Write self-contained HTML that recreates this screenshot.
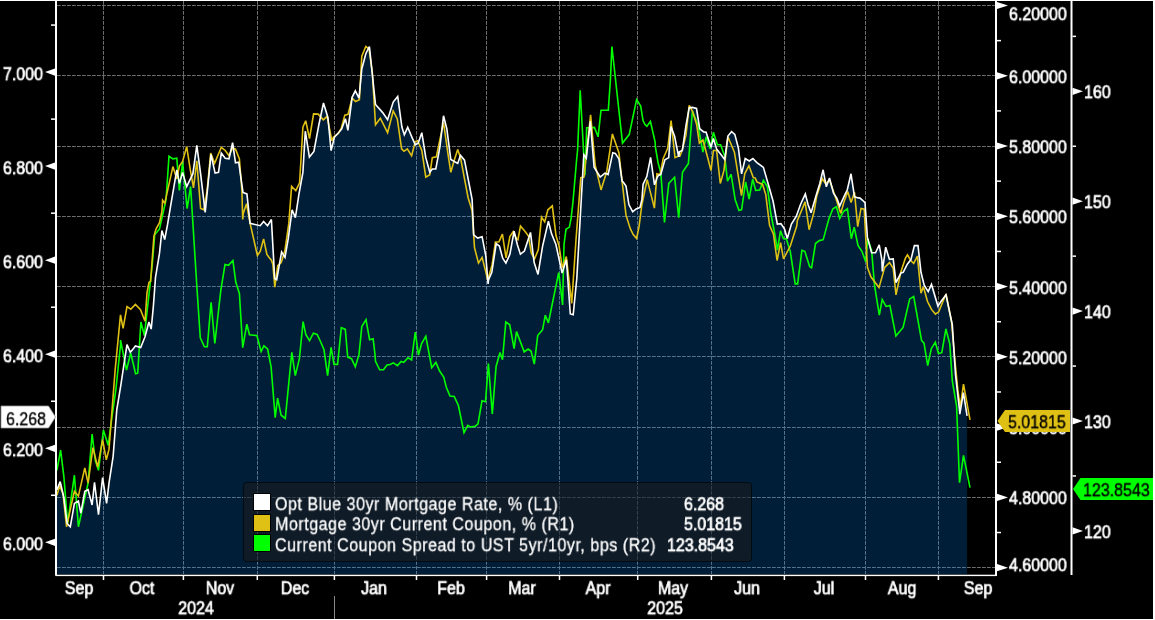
<!DOCTYPE html><html><head><meta charset="utf-8"><style>
html,body{margin:0;padding:0;background:#000;width:1155px;height:620px;overflow:hidden}
.t{position:absolute;will-change:transform;font-family:'Liberation Sans',sans-serif;font-size:16px;color:#fff;white-space:nowrap;line-height:1}
</style></head><body><div style="position:relative;width:1155px;height:620px">
<svg width="1155" height="620" viewBox="0 0 1155 620" style="position:absolute;left:0;top:0">
<rect x="0" y="0" width="1155" height="620" fill="#000"/>
<line x1="57" y1="5.5" x2="995" y2="5.5" stroke="#6e6e6e" stroke-width="1" stroke-dasharray="3.8 1.2"/>
<line x1="57" y1="75.5" x2="995" y2="75.5" stroke="#6e6e6e" stroke-width="1" stroke-dasharray="3.8 1.2"/>
<line x1="57" y1="146.5" x2="995" y2="146.5" stroke="#6e6e6e" stroke-width="1" stroke-dasharray="3.8 1.2"/>
<line x1="57" y1="216.5" x2="995" y2="216.5" stroke="#6e6e6e" stroke-width="1" stroke-dasharray="3.8 1.2"/>
<line x1="57" y1="286.5" x2="995" y2="286.5" stroke="#6e6e6e" stroke-width="1" stroke-dasharray="3.8 1.2"/>
<line x1="57" y1="356.5" x2="995" y2="356.5" stroke="#6e6e6e" stroke-width="1" stroke-dasharray="3.8 1.2"/>
<line x1="57" y1="427.5" x2="995" y2="427.5" stroke="#6e6e6e" stroke-width="1" stroke-dasharray="3.8 1.2"/>
<line x1="57" y1="497.5" x2="995" y2="497.5" stroke="#6e6e6e" stroke-width="1" stroke-dasharray="3.8 1.2"/>
<line x1="57" y1="567.5" x2="995" y2="567.5" stroke="#6e6e6e" stroke-width="1" stroke-dasharray="3.8 1.2"/>
<line x1="103.5" y1="1" x2="103.5" y2="574" stroke="#6e6e6e" stroke-width="1" stroke-dasharray="3.8 1.2"/>
<line x1="183.5" y1="1" x2="183.5" y2="574" stroke="#6e6e6e" stroke-width="1" stroke-dasharray="3.8 1.2"/>
<line x1="257.5" y1="1" x2="257.5" y2="574" stroke="#6e6e6e" stroke-width="1" stroke-dasharray="3.8 1.2"/>
<line x1="334.5" y1="1" x2="334.5" y2="574" stroke="#6e6e6e" stroke-width="1" stroke-dasharray="3.8 1.2"/>
<line x1="416.5" y1="1" x2="416.5" y2="574" stroke="#6e6e6e" stroke-width="1" stroke-dasharray="3.8 1.2"/>
<line x1="486.5" y1="1" x2="486.5" y2="574" stroke="#6e6e6e" stroke-width="1" stroke-dasharray="3.8 1.2"/>
<line x1="559.5" y1="1" x2="559.5" y2="574" stroke="#6e6e6e" stroke-width="1" stroke-dasharray="3.8 1.2"/>
<line x1="637.5" y1="1" x2="637.5" y2="574" stroke="#6e6e6e" stroke-width="1" stroke-dasharray="3.8 1.2"/>
<line x1="711.5" y1="1" x2="711.5" y2="574" stroke="#6e6e6e" stroke-width="1" stroke-dasharray="3.8 1.2"/>
<line x1="784.5" y1="1" x2="784.5" y2="574" stroke="#6e6e6e" stroke-width="1" stroke-dasharray="3.8 1.2"/>
<line x1="865.5" y1="1" x2="865.5" y2="574" stroke="#6e6e6e" stroke-width="1" stroke-dasharray="3.8 1.2"/>
<line x1="938.5" y1="1" x2="938.5" y2="574" stroke="#6e6e6e" stroke-width="1" stroke-dasharray="3.8 1.2"/>
<polygon points="56.9,574.0 56.9,489.7 60.2,481.6 63.9,497.7 67.1,523.5 70.3,526.8 74.4,503.4 78.4,501.0 80.8,513.1 84.8,491.3 88.1,489.7 92.1,505.0 94.5,482.4 98.5,514.7 102.6,477.6 106.6,503.4 109.0,483.2 113.1,456.6 116.8,409.5 120.8,385.3 123.7,366.0 127.0,344.6 130.3,352.3 133.7,348.2 135.4,345.9 140.7,347.6 145.0,336.8 148.9,322.0 151.2,329.1 153.4,305.8 155.5,277.4 159.5,253.2 161.9,230.6 164.7,239.5 167.6,224.2 170.8,204.8 173.5,189.2 176.8,169.8 179.4,183.4 182.6,172.4 186.7,186.6 192.9,173.7 196.8,145.3 200.6,173.7 205.2,212.4 211.0,154.4 215.1,173.1 218.5,172.4 221.3,153.1 225.2,158.2 229.0,158.9 232.6,142.7 235.5,162.7 238.7,162.1 243.0,192.4 246.9,193.9 250.1,223.4 260.2,225.7 263.6,221.5 267.5,225.7 271.4,219.5 274.7,278.5 276.7,279.7 281.6,251.9 285.0,257.3 288.2,238.9 292.1,209.8 295.4,217.6 298.9,194.4 302.9,172.4 305.3,131.2 309.4,157.1 313.9,151.5 319.0,124.0 323.5,103.0 327.9,117.5 331.1,150.6 334.4,137.3 341.6,129.2 345.4,118.7 347.9,130.4 352.1,97.3 355.3,90.8 359.0,98.1 361.8,69.0 365.8,53.7 369.4,46.5 375.5,104.5 382.7,112.6 387.6,119.8 393.2,102.1 397.7,96.5 401.9,127.1 404.3,134.8 407.7,127.3 412.1,137.6 415.3,144.8 418.1,143.2 421.8,132.7 425.8,157.7 429.8,172.3 432.3,169.0 435.8,169.0 440.0,146.5 443.5,115.8 446.8,128.7 450.8,159.4 454.8,161.8 457.7,163.4 460.5,155.3 464.5,160.2 472.1,199.4 473.7,234.8 477.7,238.1 482.1,236.7 485.8,255.8 488.1,284.0 488.5,280.0 491.8,272.3 496.2,243.7 499.4,246.1 502.7,258.2 505.9,263.1 509.9,254.2 514.1,231.2 517.3,244.5 520.4,254.2 524.4,251.0 530.5,232.4 534.1,262.3 538.0,274.4 542.6,246.1 548.4,221.1 551.5,233.6 555.9,244.5 562.1,273.1 566.4,259.8 570.3,313.9 573.2,314.7 576.8,278.4 583.8,154.8 586.3,158.1 590.3,121.3 594.1,167.3 600.2,177.0 604.9,173.1 608.1,174.5 612.8,152.7 615.3,153.4 618.9,158.7 622.1,181.0 623.4,182.3 626.0,186.0 628.9,204.5 632.7,211.8 636.1,208.9 640.0,207.4 641.9,199.7 643.1,184.2 646.8,176.6 650.6,157.3 654.5,184.8 657.3,177.1 658.5,175.5 660.8,174.5 664.9,159.7 667.3,158.4 668.7,157.7 671.0,126.6 674.6,136.3 678.7,156.9 679.4,151.9 682.3,150.5 686.0,125.5 689.2,107.7 692.4,107.4 696.5,108.5 699.7,128.7 703.7,131.9 706.1,132.3 711.0,147.3 713.4,138.4 716.6,148.9 724.7,159.4 727.9,136.0 731.6,131.6 734.8,134.4 738.4,148.1 741.6,173.9 745.2,158.5 749.3,161.0 752.9,158.5 756.9,162.6 763.4,167.4 769.0,186.8 773.1,201.3 777.3,224.0 780.9,223.6 784.4,228.7 787.3,238.5 791.4,224.0 796.2,216.4 800.5,204.5 805.3,194.0 808.1,204.8 811.1,212.7 815.8,196.5 819.8,183.5 823.1,169.8 826.3,186.8 829.5,177.9 833.5,193.2 836.8,198.1 839.7,206.1 844.8,194.8 847.3,189.8 851.0,173.8 854.5,196.8 858.5,197.9 860.0,198.1 862.6,200.3 865.0,202.7 867.4,237.4 871.6,252.8 875.5,252.8 879.2,244.8 881.9,260.0 882.3,271.5 885.7,247.2 889.4,259.3 893.2,258.9 896.0,282.7 900.8,273.1 903.2,272.3 907.3,264.2 911.0,259.4 914.4,245.6 918.0,245.6 921.0,272.3 924.2,285.2 928.2,291.6 931.5,284.4 937.9,306.1 941.1,301.3 946.0,294.8 952.3,324.6 955.5,374.5 959.5,410.0 959.8,414.2 963.4,392.7 967.1,415.8 967.1,574.0" fill="rgb(5,136,255)" fill-opacity="0.22"/>
<rect x="243.5" y="482.5" width="508" height="79" rx="3" fill="rgb(28,25,25)" fill-opacity="0.55" stroke="#000" stroke-opacity="0.6" stroke-width="1"/>
<polyline points="56.9,470.3 60.6,450.2 63.9,476.8 67.6,523.5 74.4,475.2 78.4,526.8 88.1,483.2 92.1,434.0 95.3,460.6 98.5,470.3 103.4,430.0 108.2,445.3 111.9,417.6 116.0,388.5 120.5,345.0 120.5,340.1 126.5,370.0 130.7,353.0 135.6,373.7 137.7,373.2 140.9,322.0 144.4,335.5 152.3,264.5 154.7,234.7 159.5,229.0 166.0,200.0 169.0,156.3 172.9,158.9 176.8,158.2 179.4,190.5 182.6,162.1 187.1,208.5 190.6,186.6 197.1,290.3 200.3,337.9 204.4,346.8 207.3,346.8 211.1,302.4 214.8,343.5 220.8,290.3 225.0,264.5 228.5,265.3 232.9,260.5 235.8,282.3 239.4,293.5 242.7,347.6 246.8,324.2 249.5,334.7 256.9,335.6 261.1,351.5 263.9,345.8 267.6,349.0 271.1,366.8 275.2,417.6 277.6,398.2 281.1,415.2 285.3,418.4 291.8,352.3 295.3,375.6 299.4,358.7 303.1,321.6 305.8,334.5 309.5,340.6 313.4,333.2 317.1,334.5 320.3,341.0 324.0,349.8 327.6,375.6 331.1,347.4 334.0,364.4 337.6,364.4 341.3,327.7 345.3,329.4 347.7,357.1 351.5,358.7 355.3,366.8 359.0,354.7 361.8,326.5 366.0,319.7 369.6,339.8 373.1,338.7 375.0,354.7 375.5,361.4 379.7,369.8 383.5,369.8 387.0,365.0 390.2,364.5 393.3,362.9 397.5,365.6 401.1,361.4 403.8,362.4 408.0,357.8 411.6,359.9 415.3,332.0 418.5,355.1 421.6,343.6 425.8,336.2 431.7,367.7 435.9,362.4 439.5,370.8 443.7,377.1 446.4,387.6 450.0,396.0 454.2,396.4 458.4,405.5 464.0,432.7 467.8,425.4 470.9,427.1 472.9,426.5 475.1,426.4 478.0,423.9 482.0,400.8 485.5,401.7 488.4,363.5 492.3,413.9 496.1,366.5 500.0,352.5 502.5,359.7 505.8,321.9 509.7,324.8 514.1,348.6 516.5,331.6 524.2,351.9 528.1,349.0 531.0,351.0 534.3,364.1 537.7,335.5 542.6,329.7 545.3,315.2 548.4,322.9 558.7,272.7 562.6,305.0 564.0,244.5 566.0,229.2 569.4,227.1 571.1,218.4 572.9,202.6 576.6,160.0 577.6,150.0 580.2,90.2 584.9,175.2 586.7,127.7 594.4,127.4 598.1,136.8 601.0,110.2 608.3,110.2 610.4,80.0 611.9,46.5 622.5,143.1 629.2,134.6 636.6,99.5 640.7,106.0 643.1,120.8 645.0,124.5 646.9,126.2 650.4,121.4 655.2,142.3 655.3,146.5 658.1,162.9 660.8,172.9 664.5,222.4 668.8,183.4 674.6,177.3 678.7,217.6 682.5,172.3 688.4,163.4 692.4,111.0 698.1,125.5 702.9,152.1 706.1,136.8 710.2,148.9 713.4,132.3 717.4,144.8 720.6,144.8 724.7,156.1 727.5,181.2 731.1,174.4 735.2,199.8 739.0,210.4 741.6,209.6 745.6,182.0 749.1,199.0 752.7,179.2 755.7,190.5 759.7,190.1 763.4,180.3 767.4,186.8 770.8,213.5 774.7,233.5 777.4,250.0 780.5,230.9 783.5,238.7 786.3,238.7 790.3,251.6 795.2,283.9 797.6,283.9 801.9,250.3 804.8,251.3 809.7,266.7 811.6,267.7 815.5,243.5 819.3,240.6 823.2,239.7 829.0,218.4 832.9,208.7 836.4,206.8 839.7,218.4 843.5,211.6 847.4,208.7 851.3,238.7 854.2,227.1 858.0,245.5 861.9,251.3 865.8,261.9 867.7,238.7 871.6,250.3 874.5,285.1 879.3,315.1 882.2,299.6 886.1,306.4 889.9,305.4 895.9,335.9 903.1,327.4 909.7,298.9 913.7,296.5 921.6,340.6 924.0,343.1 927.7,365.6 931.3,348.7 935.3,342.3 938.5,353.5 941.8,352.7 945.9,329.0 949.8,343.9 952.3,381.0 956.6,406.1 957.4,427.1 959.5,482.7 963.5,455.3 970.0,487.6" fill="none" stroke="#00ff00" stroke-width="1.6" stroke-linejoin="miter" stroke-miterlimit="3"/>
<polyline points="56.9,495.3 59.8,485.6 63.1,494.5 66.6,526.8 71.1,505.8 74.4,491.3 78.4,496.1 84.8,467.9 88.1,483.2 92.9,447.7 97.7,467.1 102.6,439.7 106.3,459.8 109.0,449.4 112.7,401.5 115.2,369.2 120.5,314.9 123.1,328.4 127.0,306.5 130.8,309.1 135.4,304.5 140.5,309.7 145.0,321.3 147.0,292.9 149.0,282.3 150.6,281.5 153.9,236.3 156.0,229.0 159.5,222.6 161.9,211.3 162.6,200.2 164.8,203.2 172.9,166.6 176.8,178.9 179.4,166.0 182.6,161.5 186.7,146.6 190.3,169.8 193.5,187.9 196.8,160.8 200.6,208.5 203.9,209.8 207.1,190.5 210.7,153.1 214.6,163.4 221.3,147.3 225.2,150.5 229.0,155.6 232.6,147.9 235.5,149.2 239.4,158.9 241.9,190.5 242.7,219.5 243.2,213.7 246.5,203.7 250.1,223.4 257.4,255.5 260.2,251.5 263.6,238.9 266.9,254.4 268.9,257.3 271.4,260.2 272.9,264.5 274.8,287.2 277.7,265.6 281.2,262.5 283.4,255.6 284.9,250.5 288.8,223.4 291.6,186.4 295.8,190.7 299.6,182.9 302.9,127.3 305.7,120.7 309.5,138.5 313.6,113.9 318.2,114.1 323.3,119.9 327.1,116.3 331.9,140.9 333.5,136.9 338.4,133.5 341.3,128.1 344.8,115.1 348.1,114.3 352.1,98.1 355.6,101.5 359.4,99.7 361.8,56.1 365.8,46.5 369.0,48.9 372.3,72.3 375.5,124.7 380.3,118.2 387.6,132.7 393.2,111.0 397.3,119.0 401.6,148.9 404.0,151.3 407.3,148.9 411.6,155.8 415.3,141.6 417.7,140.8 421.8,150.5 425.8,177.1 429.8,174.7 432.3,157.7 436.3,156.9 443.5,122.3 447.6,151.3 450.8,172.3 454.0,161.0 457.7,149.4 460.5,157.7 468.1,197.7 472.1,210.6 474.5,247.7 478.5,263.1 482.1,257.4 485.8,271.9 487.7,280.4 492.1,264.7 495.4,242.1 499.0,241.7 502.4,234.0 506.0,257.8 509.9,236.5 513.2,231.6 516.5,238.9 517.9,239.7 520.5,226.0 524.5,230.8 528.5,236.0 531.3,253.0 534.5,259.0 538.3,249.8 541.5,217.1 544.7,221.9 547.9,209.8 552.3,205.8 556.0,235.6 559.1,246.1 562.3,267.9 566.3,256.6 571.7,303.4 576.0,239.7 580.8,177.7 584.0,177.1 590.6,114.8 595.2,165.2 601.0,189.9 606.7,171.8 612.4,133.9 618.9,152.7 621.7,177.9 626.0,215.2 630.3,228.7 633.2,234.5 636.6,238.4 639.0,226.8 641.9,204.5 647.2,179.6 654.4,208.1 656.9,173.8 660.1,174.6 663.2,158.4 665.0,154.5 667.7,148.4 671.1,120.6 675.0,157.7 678.7,156.1 680.0,156.0 682.3,149.7 686.0,135.2 689.2,105.3 692.4,111.0 696.5,123.9 699.4,143.2 702.9,140.0 707.7,157.7 711.0,170.6 713.4,150.5 716.6,150.5 720.3,183.5 723.9,170.6 727.9,136.8 734.4,152.1 741.5,195.7 744.8,173.5 748.9,165.8 753.3,177.5 755.3,178.1 756.9,181.9 762.6,184.4 765.8,194.8 769.6,225.6 773.4,233.9 777.1,260.5 780.6,242.7 783.5,258.9 790.3,246.0 796.8,225.8 797.3,220.6 805.1,201.9 809.1,229.7 812.9,216.1 814.2,211.0 816.6,196.5 822.3,178.7 825.5,183.5 829.5,180.3 833.5,191.6 836.8,201.3 840.8,213.4 844.0,201.9 847.7,191.5 851.1,202.4 854.5,192.3 857.7,226.6 861.0,208.4 864.2,209.2 867.4,267.4 871.0,277.1 879.0,287.6 884.7,267.4 889.5,262.6 893.2,268.2 896.0,294.8 900.8,272.3 905.3,258.4 907.5,254.8 910.5,260.2 913.7,263.4 917.4,256.1 921.0,293.2 923.4,286.8 927.4,301.3 931.5,309.4 935.4,314.1 938.7,311.8 946.0,294.0 951.6,322.3 954.7,358.4 957.9,390.6 960.3,406.8 963.5,384.2 970.0,419.8" fill="none" stroke="#dfc014" stroke-width="1.6" stroke-linejoin="miter" stroke-miterlimit="3"/>
<polyline points="56.9,489.7 60.2,481.6 63.9,497.7 67.1,523.5 70.3,526.8 74.4,503.4 78.4,501.0 80.8,513.1 84.8,491.3 88.1,489.7 92.1,505.0 94.5,482.4 98.5,514.7 102.6,477.6 106.6,503.4 109.0,483.2 113.1,456.6 116.8,409.5 120.8,385.3 123.7,366.0 127.0,344.6 130.3,352.3 133.7,348.2 135.4,345.9 140.7,347.6 145.0,336.8 148.9,322.0 151.2,329.1 153.4,305.8 155.5,277.4 159.5,253.2 161.9,230.6 164.7,239.5 167.6,224.2 170.8,204.8 173.5,189.2 176.8,169.8 179.4,183.4 182.6,172.4 186.7,186.6 192.9,173.7 196.8,145.3 200.6,173.7 205.2,212.4 211.0,154.4 215.1,173.1 218.5,172.4 221.3,153.1 225.2,158.2 229.0,158.9 232.6,142.7 235.5,162.7 238.7,162.1 243.0,192.4 246.9,193.9 250.1,223.4 260.2,225.7 263.6,221.5 267.5,225.7 271.4,219.5 274.7,278.5 276.7,279.7 281.6,251.9 285.0,257.3 288.2,238.9 292.1,209.8 295.4,217.6 298.9,194.4 302.9,172.4 305.3,131.2 309.4,157.1 313.9,151.5 319.0,124.0 323.5,103.0 327.9,117.5 331.1,150.6 334.4,137.3 341.6,129.2 345.4,118.7 347.9,130.4 352.1,97.3 355.3,90.8 359.0,98.1 361.8,69.0 365.8,53.7 369.4,46.5 375.5,104.5 382.7,112.6 387.6,119.8 393.2,102.1 397.7,96.5 401.9,127.1 404.3,134.8 407.7,127.3 412.1,137.6 415.3,144.8 418.1,143.2 421.8,132.7 425.8,157.7 429.8,172.3 432.3,169.0 435.8,169.0 440.0,146.5 443.5,115.8 446.8,128.7 450.8,159.4 454.8,161.8 457.7,163.4 460.5,155.3 464.5,160.2 472.1,199.4 473.7,234.8 477.7,238.1 482.1,236.7 485.8,255.8 488.1,284.0 488.5,280.0 491.8,272.3 496.2,243.7 499.4,246.1 502.7,258.2 505.9,263.1 509.9,254.2 514.1,231.2 517.3,244.5 520.4,254.2 524.4,251.0 530.5,232.4 534.1,262.3 538.0,274.4 542.6,246.1 548.4,221.1 551.5,233.6 555.9,244.5 562.1,273.1 566.4,259.8 570.3,313.9 573.2,314.7 576.8,278.4 583.8,154.8 586.3,158.1 590.3,121.3 594.1,167.3 600.2,177.0 604.9,173.1 608.1,174.5 612.8,152.7 615.3,153.4 618.9,158.7 622.1,181.0 623.4,182.3 626.0,186.0 628.9,204.5 632.7,211.8 636.1,208.9 640.0,207.4 641.9,199.7 643.1,184.2 646.8,176.6 650.6,157.3 654.5,184.8 657.3,177.1 658.5,175.5 660.8,174.5 664.9,159.7 667.3,158.4 668.7,157.7 671.0,126.6 674.6,136.3 678.7,156.9 679.4,151.9 682.3,150.5 686.0,125.5 689.2,107.7 692.4,107.4 696.5,108.5 699.7,128.7 703.7,131.9 706.1,132.3 711.0,147.3 713.4,138.4 716.6,148.9 724.7,159.4 727.9,136.0 731.6,131.6 734.8,134.4 738.4,148.1 741.6,173.9 745.2,158.5 749.3,161.0 752.9,158.5 756.9,162.6 763.4,167.4 769.0,186.8 773.1,201.3 777.3,224.0 780.9,223.6 784.4,228.7 787.3,238.5 791.4,224.0 796.2,216.4 800.5,204.5 805.3,194.0 808.1,204.8 811.1,212.7 815.8,196.5 819.8,183.5 823.1,169.8 826.3,186.8 829.5,177.9 833.5,193.2 836.8,198.1 839.7,206.1 844.8,194.8 847.3,189.8 851.0,173.8 854.5,196.8 858.5,197.9 860.0,198.1 862.6,200.3 865.0,202.7 867.4,237.4 871.6,252.8 875.5,252.8 879.2,244.8 881.9,260.0 882.3,271.5 885.7,247.2 889.4,259.3 893.2,258.9 896.0,282.7 900.8,273.1 903.2,272.3 907.3,264.2 911.0,259.4 914.4,245.6 918.0,245.6 921.0,272.3 924.2,285.2 928.2,291.6 931.5,284.4 937.9,306.1 941.1,301.3 946.0,294.8 952.3,324.6 955.5,374.5 959.5,410.0 959.8,414.2 963.4,392.7 967.1,415.8" fill="none" stroke="#ffffff" stroke-width="1.6" stroke-linejoin="miter" stroke-miterlimit="3"/>
<rect x="55" y="1" width="2" height="574.5" fill="#fff"/>
<rect x="55.5" y="574.7" width="940.5" height="1.4" fill="#fff"/>
<rect x="995" y="1" width="2" height="575" fill="#fff"/>
<rect x="1070.5" y="1" width="2" height="574" fill="#fff"/>
<polygon points="45,542.3 55,538.7 55,545.9" fill="#fff"/>
<rect x="51" y="494.53" width="4" height="1.5" fill="#fff"/>
<polygon points="45,448.3 55,444.7 55,451.9" fill="#fff"/>
<rect x="51" y="400.49" width="4" height="1.5" fill="#fff"/>
<polygon points="45,354.2 55,350.6 55,357.8" fill="#fff"/>
<rect x="51" y="306.45" width="4" height="1.5" fill="#fff"/>
<polygon points="45,260.2 55,256.6 55,263.8" fill="#fff"/>
<rect x="51" y="212.41" width="4" height="1.5" fill="#fff"/>
<polygon points="45,166.1 55,162.5 55,169.7" fill="#fff"/>
<rect x="51" y="118.37" width="4" height="1.5" fill="#fff"/>
<polygon points="45,72.1 55,68.5 55,75.7" fill="#fff"/>
<rect x="51" y="24.33" width="4" height="1.5" fill="#fff"/>
<polygon points="997,1.9 997,9.1 1008,5.5" fill="#fff"/>
<rect x="997" y="39.88" width="4" height="1.5" fill="#fff"/>
<polygon points="997,72.2 997,79.4 1008,75.8" fill="#fff"/>
<rect x="997" y="110.15" width="4" height="1.5" fill="#fff"/>
<polygon points="997,142.4 997,149.6 1008,146.0" fill="#fff"/>
<rect x="997" y="180.42" width="4" height="1.5" fill="#fff"/>
<polygon points="997,212.7 997,219.9 1008,216.3" fill="#fff"/>
<rect x="997" y="250.70" width="4" height="1.5" fill="#fff"/>
<polygon points="997,283.0 997,290.2 1008,286.6" fill="#fff"/>
<rect x="997" y="320.96" width="4" height="1.5" fill="#fff"/>
<polygon points="997,353.2 997,360.4 1008,356.8" fill="#fff"/>
<rect x="997" y="391.23" width="4" height="1.5" fill="#fff"/>
<polygon points="997,423.5 997,430.7 1008,427.1" fill="#fff"/>
<rect x="997" y="461.50" width="4" height="1.5" fill="#fff"/>
<polygon points="997,493.8 997,501.0 1008,497.4" fill="#fff"/>
<rect x="997" y="531.77" width="4" height="1.5" fill="#fff"/>
<polygon points="997,564.1 997,571.3 1008,567.7" fill="#fff"/>
<polygon points="1072.5,87.7 1072.5,94.9 1083,91.3" fill="#fff"/>
<polygon points="1072.5,197.6 1072.5,204.8 1083,201.2" fill="#fff"/>
<polygon points="1072.5,307.5 1072.5,314.7 1083,311.1" fill="#fff"/>
<polygon points="1072.5,417.4 1072.5,424.6 1083,421.0" fill="#fff"/>
<polygon points="1072.5,527.3 1072.5,534.5 1083,530.9" fill="#fff"/>
<rect x="1072.5" y="35.60" width="3.5" height="1.5" fill="#fff"/>
<rect x="1072.5" y="145.50" width="3.5" height="1.5" fill="#fff"/>
<rect x="1072.5" y="255.40" width="3.5" height="1.5" fill="#fff"/>
<rect x="1072.5" y="365.30" width="3.5" height="1.5" fill="#fff"/>
<rect x="1072.5" y="475.20" width="3.5" height="1.5" fill="#fff"/>
<rect x="102.75" y="575" width="1.5" height="5" fill="#fff"/>
<rect x="182.65" y="575" width="1.5" height="5" fill="#fff"/>
<rect x="256.55" y="575" width="1.5" height="5" fill="#fff"/>
<rect x="333.65" y="575" width="1.5" height="5" fill="#fff"/>
<rect x="415.75" y="575" width="1.5" height="5" fill="#fff"/>
<rect x="485.85" y="575" width="1.5" height="5" fill="#fff"/>
<rect x="558.75" y="575" width="1.5" height="5" fill="#fff"/>
<rect x="636.95" y="575" width="1.5" height="5" fill="#fff"/>
<rect x="710.65" y="575" width="1.5" height="5" fill="#fff"/>
<rect x="783.65" y="575" width="1.5" height="5" fill="#fff"/>
<rect x="864.75" y="575" width="1.5" height="5" fill="#fff"/>
<rect x="937.65" y="575" width="1.5" height="5" fill="#fff"/>
<rect x="334" y="596" width="1" height="23" fill="#888"/>
<rect x="0" y="0" width="1155" height="1" fill="#fff"/>
<rect x="1153" y="0" width="2" height="620" fill="#fff"/>
<rect x="0" y="619" width="1155" height="1" fill="#fff"/>
</svg>
<div class="t" style="left:43px;top:544.8px;transform:translate(-100%,-50%) scaleX(0.914);transform-origin:100% 50%;font-size:17.504px;color:#fff;-webkit-text-stroke:0.7px #fff;">6.000</div>
<div class="t" style="left:43px;top:450.7599999999999px;transform:translate(-100%,-50%) scaleX(0.914);transform-origin:100% 50%;font-size:17.504px;color:#fff;-webkit-text-stroke:0.7px #fff;">6.200</div>
<div class="t" style="left:43px;top:356.7199999999998px;transform:translate(-100%,-50%) scaleX(0.914);transform-origin:100% 50%;font-size:17.504px;color:#fff;-webkit-text-stroke:0.7px #fff;">6.400</div>
<div class="t" style="left:43px;top:262.6800000000001px;transform:translate(-100%,-50%) scaleX(0.914);transform-origin:100% 50%;font-size:17.504px;color:#fff;-webkit-text-stroke:0.7px #fff;">6.600</div>
<div class="t" style="left:43px;top:168.64px;transform:translate(-100%,-50%) scaleX(0.914);transform-origin:100% 50%;font-size:17.504px;color:#fff;-webkit-text-stroke:0.7px #fff;">6.800</div>
<div class="t" style="left:43px;top:74.59999999999991px;transform:translate(-100%,-50%) scaleX(0.914);transform-origin:100% 50%;font-size:17.504px;color:#fff;-webkit-text-stroke:0.7px #fff;">7.000</div>
<div class="t" style="left:1009px;top:15px;transform:translate(0,-50%) scaleX(0.914);transform-origin:0 50%;font-size:17.504px;color:#fff;-webkit-text-stroke:0.7px #fff;">6.20000</div>
<div class="t" style="left:1009px;top:77.77000000000005px;transform:translate(0,-50%) scaleX(0.914);transform-origin:0 50%;font-size:17.504px;color:#fff;-webkit-text-stroke:0.7px #fff;">6.00000</div>
<div class="t" style="left:1009px;top:148.0400000000001px;transform:translate(0,-50%) scaleX(0.914);transform-origin:0 50%;font-size:17.504px;color:#fff;-webkit-text-stroke:0.7px #fff;">5.80000</div>
<div class="t" style="left:1009px;top:218.31000000000017px;transform:translate(0,-50%) scaleX(0.914);transform-origin:0 50%;font-size:17.504px;color:#fff;-webkit-text-stroke:0.7px #fff;">5.60000</div>
<div class="t" style="left:1009px;top:288.5799999999999px;transform:translate(0,-50%) scaleX(0.914);transform-origin:0 50%;font-size:17.504px;color:#fff;-webkit-text-stroke:0.7px #fff;">5.40000</div>
<div class="t" style="left:1009px;top:358.84999999999997px;transform:translate(0,-50%) scaleX(0.914);transform-origin:0 50%;font-size:17.504px;color:#fff;-webkit-text-stroke:0.7px #fff;">5.20000</div>
<div class="t" style="left:1009px;top:429.12000000000006px;transform:translate(0,-50%) scaleX(0.914);transform-origin:0 50%;font-size:17.504px;color:#fff;-webkit-text-stroke:0.7px #fff;">5.00000</div>
<div class="t" style="left:1009px;top:499.3900000000001px;transform:translate(0,-50%) scaleX(0.914);transform-origin:0 50%;font-size:17.504px;color:#fff;-webkit-text-stroke:0.7px #fff;">4.80000</div>
<div class="t" style="left:1009px;top:566px;transform:translate(0,-50%) scaleX(0.914);transform-origin:0 50%;font-size:17.504px;color:#fff;-webkit-text-stroke:0.7px #fff;">4.60000</div>
<div class="t" style="left:1084px;top:93.3px;transform:translate(0,-50%) scaleX(0.914);transform-origin:0 50%;font-size:17.504px;color:#fff;-webkit-text-stroke:0.7px #fff;">160</div>
<div class="t" style="left:1084px;top:203.2px;transform:translate(0,-50%) scaleX(0.914);transform-origin:0 50%;font-size:17.504px;color:#fff;-webkit-text-stroke:0.7px #fff;">150</div>
<div class="t" style="left:1084px;top:313.1px;transform:translate(0,-50%) scaleX(0.914);transform-origin:0 50%;font-size:17.504px;color:#fff;-webkit-text-stroke:0.7px #fff;">140</div>
<div class="t" style="left:1084px;top:423.0px;transform:translate(0,-50%) scaleX(0.914);transform-origin:0 50%;font-size:17.504px;color:#fff;-webkit-text-stroke:0.7px #fff;">130</div>
<div class="t" style="left:1084px;top:532.9px;transform:translate(0,-50%) scaleX(0.914);transform-origin:0 50%;font-size:17.504px;color:#fff;-webkit-text-stroke:0.7px #fff;">120</div>
<div class="t" style="left:79px;top:589px;transform:translate(-50%,-50%) scaleX(0.914);transform-origin:50% 50%;font-size:17.504px;color:#fff;-webkit-text-stroke:0.7px #fff;">Sep</div>
<div class="t" style="left:142px;top:589px;transform:translate(-50%,-50%) scaleX(0.914);transform-origin:50% 50%;font-size:17.504px;color:#fff;-webkit-text-stroke:0.7px #fff;">Oct</div>
<div class="t" style="left:220px;top:589px;transform:translate(-50%,-50%) scaleX(0.914);transform-origin:50% 50%;font-size:17.504px;color:#fff;-webkit-text-stroke:0.7px #fff;">Nov</div>
<div class="t" style="left:295px;top:589px;transform:translate(-50%,-50%) scaleX(0.914);transform-origin:50% 50%;font-size:17.504px;color:#fff;-webkit-text-stroke:0.7px #fff;">Dec</div>
<div class="t" style="left:374px;top:589px;transform:translate(-50%,-50%) scaleX(0.914);transform-origin:50% 50%;font-size:17.504px;color:#fff;-webkit-text-stroke:0.7px #fff;">Jan</div>
<div class="t" style="left:451px;top:589px;transform:translate(-50%,-50%) scaleX(0.914);transform-origin:50% 50%;font-size:17.504px;color:#fff;-webkit-text-stroke:0.7px #fff;">Feb</div>
<div class="t" style="left:522px;top:589px;transform:translate(-50%,-50%) scaleX(0.914);transform-origin:50% 50%;font-size:17.504px;color:#fff;-webkit-text-stroke:0.7px #fff;">Mar</div>
<div class="t" style="left:598px;top:589px;transform:translate(-50%,-50%) scaleX(0.914);transform-origin:50% 50%;font-size:17.504px;color:#fff;-webkit-text-stroke:0.7px #fff;">Apr</div>
<div class="t" style="left:673px;top:589px;transform:translate(-50%,-50%) scaleX(0.914);transform-origin:50% 50%;font-size:17.504px;color:#fff;-webkit-text-stroke:0.7px #fff;">May</div>
<div class="t" style="left:747px;top:589px;transform:translate(-50%,-50%) scaleX(0.914);transform-origin:50% 50%;font-size:17.504px;color:#fff;-webkit-text-stroke:0.7px #fff;">Jun</div>
<div class="t" style="left:824px;top:589px;transform:translate(-50%,-50%) scaleX(0.914);transform-origin:50% 50%;font-size:17.504px;color:#fff;-webkit-text-stroke:0.7px #fff;">Jul</div>
<div class="t" style="left:902px;top:589px;transform:translate(-50%,-50%) scaleX(0.914);transform-origin:50% 50%;font-size:17.504px;color:#fff;-webkit-text-stroke:0.7px #fff;">Aug</div>
<div class="t" style="left:977.5px;top:589px;transform:translate(-50%,-50%) scaleX(0.914);transform-origin:50% 50%;font-size:17.504px;color:#fff;-webkit-text-stroke:0.7px #fff;">Sep</div>
<div class="t" style="left:196px;top:609px;transform:translate(-50%,-50%) scaleX(0.914);transform-origin:50% 50%;font-size:17.504px;color:#fff;-webkit-text-stroke:0.7px #fff;">2024</div>
<div class="t" style="left:665px;top:609px;transform:translate(-50%,-50%) scaleX(0.914);transform-origin:50% 50%;font-size:17.504px;color:#fff;-webkit-text-stroke:0.7px #fff;">2025</div>
<div style="position:absolute;left:254px;top:494.0px;width:16px;height:16px;background:#fff;box-shadow:0 0 0 1px #000"></div>
<div class="t" style="left:275px;top:504.5px;transform:translate(0,-50%) scaleX(0.914);transform-origin:0 50%;font-size:17.504px;color:#fff;-webkit-text-stroke:0.7px #fff;letter-spacing:0.6px;-webkit-text-stroke:0.3px #fff">Opt Blue 30yr Mortgage Rate, % (L1)</div>
<div class="t" style="left:684px;top:504.5px;transform:translate(0,-50%) scaleX(0.914);transform-origin:0 50%;font-size:17.504px;color:#fff;-webkit-text-stroke:0.7px #fff;">6.268</div>
<div style="position:absolute;left:254px;top:514.5px;width:16px;height:16px;background:#dfc014;box-shadow:0 0 0 1px #000"></div>
<div class="t" style="left:275px;top:525.0px;transform:translate(0,-50%) scaleX(0.914);transform-origin:0 50%;font-size:17.504px;color:#fff;-webkit-text-stroke:0.7px #fff;letter-spacing:0.6px;-webkit-text-stroke:0.3px #fff">Mortgage 30yr Current Coupon, % (R1)</div>
<div class="t" style="left:684px;top:525.0px;transform:translate(0,-50%) scaleX(0.914);transform-origin:0 50%;font-size:17.504px;color:#fff;-webkit-text-stroke:0.7px #fff;">5.01815</div>
<div style="position:absolute;left:254px;top:535.0px;width:16px;height:16px;background:#00ff00;box-shadow:0 0 0 1px #000"></div>
<div class="t" style="left:275px;top:545.5px;transform:translate(0,-50%) scaleX(0.914);transform-origin:0 50%;font-size:17.504px;color:#fff;-webkit-text-stroke:0.7px #fff;letter-spacing:0.6px;-webkit-text-stroke:0.3px #fff">Current Coupon Spread to UST 5yr/10yr, bps (R2)</div>
<div class="t" style="left:667px;top:545.5px;transform:translate(0,-50%) scaleX(0.914);transform-origin:0 50%;font-size:17.504px;color:#fff;-webkit-text-stroke:0.7px #fff;">123.8543</div>
<svg style="position:absolute;left:0;top:0" width="1155" height="620">
<polygon points="1,406 48.5,406 55.5,417 48.5,428 1,428" fill="#fff" stroke="#999" stroke-width="0.8"/>
<polygon points="997.5,421 1005,410 1070,410 1070,432 1005,432" fill="#dfc014"/>
<polygon points="1073,489 1080.5,478 1153,478 1153,500 1080.5,500" fill="#00ff00"/>
</svg>
<div class="t" style="left:5.5px;top:419.5px;transform:translate(0,-50%) scaleX(0.914);transform-origin:0 50%;font-size:17.504px;color:#000;-webkit-text-stroke:0.7px #000;-webkit-text-stroke:0.35px #000">6.268</div>
<div class="t" style="left:1008px;top:423px;transform:translate(0,-50%) scaleX(0.914);transform-origin:0 50%;font-size:17.504px;color:#000;-webkit-text-stroke:0.7px #000;-webkit-text-stroke:0.35px #000">5.01815</div>
<div class="t" style="left:1083px;top:491px;transform:translate(0,-50%) scaleX(0.914);transform-origin:0 50%;font-size:17.504px;color:#000;-webkit-text-stroke:0.7px #000;-webkit-text-stroke:0.35px #000">123.8543</div>
</div></body></html>
